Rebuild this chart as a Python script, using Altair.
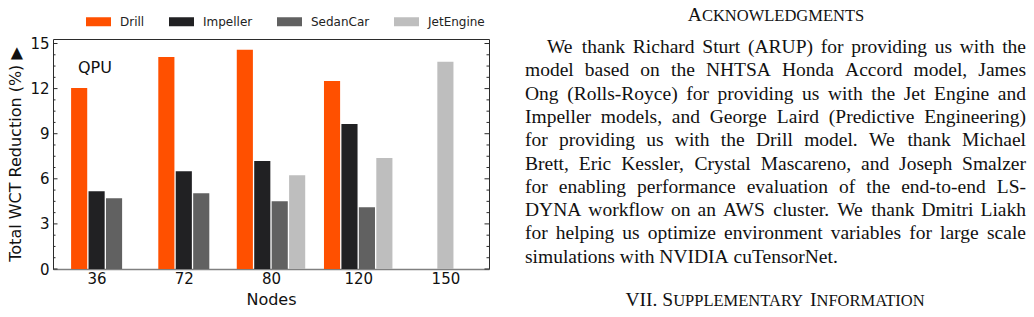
import json
import altair as alt
import pandas as pd

# ---------------- chart data ----------------
nodes = ["36", "72", "80", "120", "150"]
series = ["Drill", "Impeller", "SedanCar", "JetEngine"]
colors = ["#ff5000", "#212123", "#616161", "#bebebe"]
drill = [12.04, 14.11, 14.58, 12.51, None]
impeller = [5.18, 6.51, 7.18, 9.64, None]
sedan = [4.71, 5.04, 4.51, 4.11, None]
jet = [None, None, 6.24, 7.38, 13.78]
y_major = [0, 3, 6, 9, 12, 15]
y_minor = [0.75, 1.5, 2.25, 3.75, 4.5, 5.25, 6.75, 7.5, 8.25, 9.75, 10.5, 11.25,
           12.75, 13.5, 14.25]
y_title = "Total WCT Reduction (%) \u25b6"
x_title = "Nodes"
annotation = "QPU"

# ---------------- side text ----------------
ack_head = [("A", "big"), ("CKNOWLEDGMENTS", "small")]
para_lines = [
    "We thank Richard Sturt (ARUP) for providing us with the",
    "model based on the NHTSA Honda Accord model, James",
    "Ong (Rolls-Royce) for providing us with the Jet Engine and",
    "Impeller models, and George Laird (Predictive Engineering)",
    "for providing us with the Drill model. We thank Michael",
    "Brett, Eric Kessler, Crystal Mascareno, and Joseph Smalzer",
    "for enabling performance evaluation of the end-to-end LS-",
    "DYNA workflow on an AWS cluster. We thank Dmitri Liakh",
    "for helping us optimize environment variables for large scale",
    "simulations with NVIDIA cuTensorNet.",
]
sec_head = [("VII. S", "big"), ("UPPLEMENTARY", "small"), ("I", "big"), ("NFORMATION", "small")]

# ---------------- layout constants ----------------
PL, PT, W, H = 53, 39, 436, 230
STEP, BW = 0.2, 0.185
FS_BIG, FS_SMALL = 19.5, 16.5
LEFT, INDENT, RIGHT = 525, 547, 1026
BASE0, LS = 53, 23.3
CENTER = 776

TW = {" ": 250, "!": 333, "(": 333, ")": 333, ",": 250, "-": 333, ".": 250, "%": 833,
      "A": 722, "B": 667, "C": 667, "D": 722, "E": 611, "F": 556, "G": 722, "H": 722,
      "I": 333, "J": 389, "K": 722, "L": 611, "M": 889, "N": 722, "O": 722, "P": 556,
      "Q": 722, "R": 667, "S": 556, "T": 611, "U": 722, "V": 722, "W": 944, "X": 722,
      "Y": 722, "Z": 611, "a": 444, "b": 500, "c": 444, "d": 500, "e": 444, "f": 333,
      "g": 500, "h": 500, "i": 278, "j": 278, "k": 500, "l": 278, "m": 778, "n": 500,
      "o": 500, "p": 500, "q": 500, "r": 333, "s": 389, "t": 278, "u": 500, "v": 500,
      "w": 722, "x": 500, "y": 500, "z": 444}


def tw(s, size):
    return sum(TW.get(c, 500) for c in s) / 1000.0 * size


# bars table
rows = []
for gi, node in enumerate(nodes):
    vals = [drill[gi], impeller[gi], sedan[gi], jet[gi]]
    present = [(s, v) for s, v in zip(series, vals) if v is not None]
    for slot, (s, v) in enumerate(present):
        rows.append(dict(node=node, gi=gi, series=s, value=v, slot=slot, n=len(present)))
df = pd.DataFrame(rows)

xscale = alt.Scale(domain=[-0.5, 4.5], nice=False, zero=False)
yscale = alt.Scale(domain=[0, 15.3], nice=False, zero=False)

bars = alt.Chart(df).transform_calculate(
    xa=f"datum.gi + (datum.slot - (datum.n - 1) / 2) * {STEP} - {BW / 2}",
    xb=f"datum.gi + (datum.slot - (datum.n - 1) / 2) * {STEP} + {BW / 2}",
    base="0",
).mark_bar().encode(
    x=alt.X("xa:Q", scale=xscale, title=x_title,
            axis=alt.Axis(values=list(range(len(nodes))),
                          labelExpr=f"{json.dumps(nodes)}[datum.value]",
                          tickSize=0, domainColor="#808080", domainWidth=1.5,
                          labelPadding=2, titlePadding=5, grid=False,
                          labelFontSize=15, titleFontSize=16)),
    x2="xb:Q",
    y=alt.Y("value:Q", scale=yscale, stack=None, title=y_title,
            axis=alt.Axis(values=y_major, tickSize=0, domain=False, grid=False,
                          labelPadding=4, titlePadding=6,
                          labelFontSize=15, titleFontSize=16)),
    y2="base:Q",
    color=alt.Color("series:N", scale=alt.Scale(domain=series, range=colors),
                    legend=alt.Legend(orient="none", direction="horizontal",
                                      legendX=33, legendY=-30, title=None,
                                      symbolType="M-1,-0.36H1V0.36H-1Z",
                                      symbolSize=625, symbolStrokeWidth=0,
                                      symbolOpacity=1, labelFont="DejaVu Sans",
                                      labelFontSize=12, labelOffset=9,
                                      columnPadding=24, padding=0,
                                      labelColor="#222222")),
)

major_df = pd.DataFrame({"v": y_major})
minor_df = pd.DataFrame({"v": y_minor})
tick_layers = []
for d, ln in [(major_df, 4.5), (minor_df, 2.5)]:
    for x0, x1 in [(0, ln), (W, W - ln)]:
        tick_layers.append(
            alt.Chart(d).mark_rule(color="#2b2b2b", strokeWidth=1).encode(
                y=alt.Y("v:Q", scale=yscale, axis=None),
                x=alt.value(x0), x2=alt.value(x1)))

qpu = alt.Chart(pd.DataFrame({"t": [annotation], "px": [78 - PL], "py": [73 - PT]})).mark_text(
    font="DejaVu Sans", fontSize=16, align="left", baseline="alphabetic", color="#111111"
).encode(x=alt.X("px:Q", scale=None, axis=None), y=alt.Y("py:Q", scale=None, axis=None),
         text="t:N")

# side text rows
trows = []


def head(segs, base):
    sizes = {"big": FS_BIG, "small": FS_SMALL}
    total = 0
    for i, (s, k) in enumerate(segs):
        total += tw(s, sizes[k])
        if i > 0 and s == "I":
            total += tw(" ", FS_BIG)
    x = CENTER - total / 2
    for s, k in segs:
        if s == "I":
            x += tw(" ", FS_BIG)
        trows.append(dict(px=x - PL, py=base - PT, t=s, fs=sizes[k], al="l"))
        x += tw(s, sizes[k])


head(ack_head, 21)
for i, line in enumerate(para_lines):
    words = line.split(" ")
    left = INDENT if i == 0 else LEFT
    base = BASE0 + i * LS
    last = i == len(para_lines) - 1
    if last:
        gap = tw(" ", FS_BIG)
    else:
        gap = (RIGHT - left - sum(tw(w, FS_BIG) for w in words)) / (len(words) - 1)
    x = left
    for j, w in enumerate(words):
        if j == len(words) - 1 and not last:
            trows.append(dict(px=RIGHT - PL, py=base - PT, t=w, fs=FS_BIG, al="r"))
        else:
            trows.append(dict(px=x - PL, py=base - PT, t=w, fs=FS_BIG, al="l"))
        x += tw(w, FS_BIG) + gap
head(sec_head, 306)
tdf = pd.DataFrame(trows)

text_layers = []
for al, align in [("l", "left"), ("r", "right")]:
    text_layers.append(
        alt.Chart(tdf).transform_filter(f"datum.al == '{al}'").mark_text(
            font="Liberation Serif", align=align, baseline="alphabetic", color="#111111"
        ).encode(x=alt.X("px:Q", scale=None, axis=None),
                 y=alt.Y("py:Q", scale=None, axis=None),
                 size=alt.Size("fs:Q", scale=None, legend=None),
                 text="t:N"))

chart = alt.layer(bars, *tick_layers, qpu, *text_layers).resolve_scale(
    x="independent", y="independent"
).properties(
    width=W, height=H,
    padding={"left": PL, "top": PT, "right": 1034 - PL - W, "bottom": 317 - PT - H},
    autosize=alt.AutoSizeParams(type="none"),
).configure_view(stroke="#2b2b2b", strokeWidth=1).configure_axis(
    labelFont="DejaVu Sans", titleFont="DejaVu Sans", titleFontWeight="normal",
    labelColor="#111111", titleColor="#111111",
)

chart.save("out.html", embed_options={"renderer": "svg", "actions": False})
